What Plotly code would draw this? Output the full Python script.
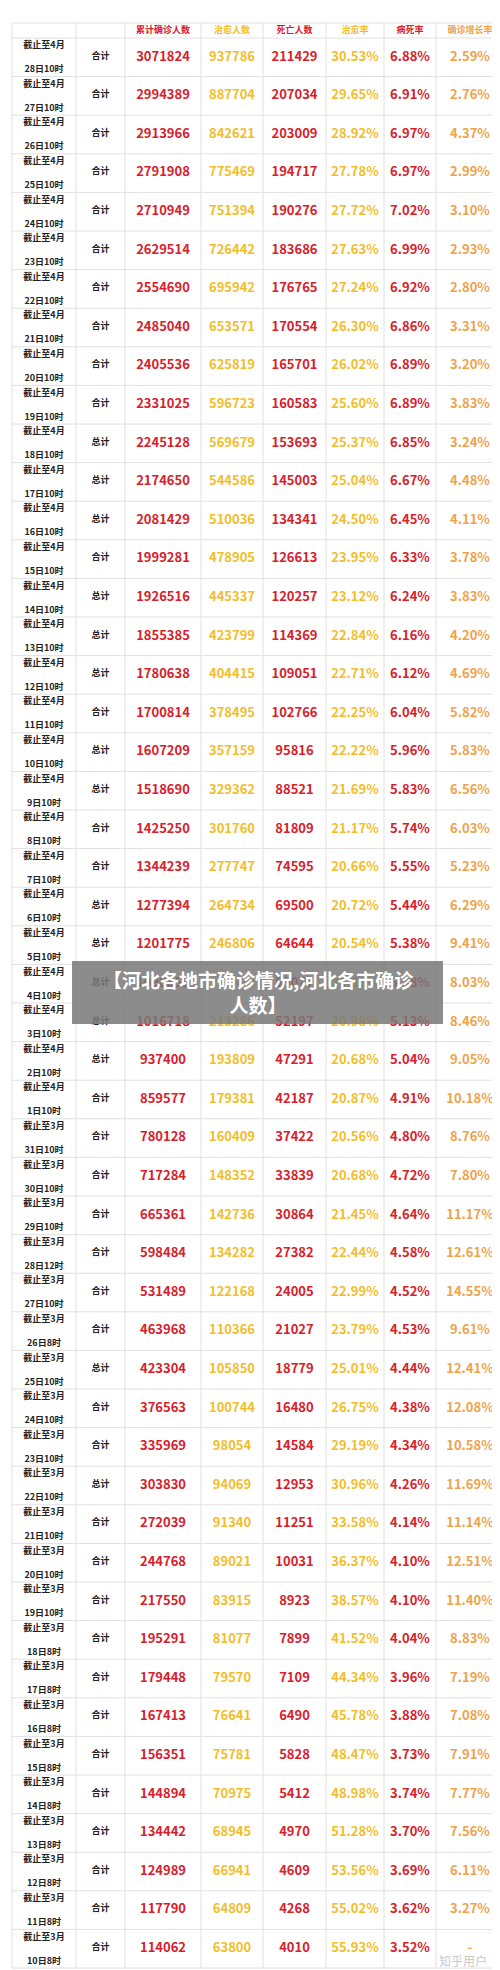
import plotly.graph_objects as go

days_apr = [f"4月|{d}日10时" for d in range(28, 0, -1)]
days_mar = ["3月|31日10时", "3月|30日10时", "3月|29日10时", "3月|28日12时", "3月|27日10时",
            "3月|26日8时", "3月|25日10时", "3月|24日10时", "3月|23日10时", "3月|22日10时",
            "3月|21日10时", "3月|20日10时", "3月|19日10时", "3月|18日8时", "3月|17日8时",
            "3月|16日8时", "3月|15日8时", "3月|14日8时", "3月|13日8时", "3月|12日8时",
            "3月|11日8时", "3月|10日8时"]
periods = days_apr + days_mar

kind = (["合计"] * 10 + ["总计", "总计", "总计", "合计", "总计", "总计", "总计", "合计", "总计", "总计",
         "合计", "合计", "总计", "总计", "总计", "总计", "总计", "合计"]
        + ["合计"] * 6 + ["总计", "合计", "合计", "总计"] + ["合计"] * 12)

confirmed = [3071824, 2994389, 2913966, 2791908, 2710949, 2629514, 2554690, 2485040, 2405536, 2331025,
             2245128, 2174650, 2081429, 1999281, 1926516, 1855385, 1780638, 1700814, 1607209, 1518690,
             1425250, 1344239, 1277394, 1201775, 1098855, 1016718, 937400, 859577, 780128, 717284,
             665361, 598484, 531489, 463968, 423304, 376563, 335969, 303830, 272039, 244768,
             217550, 195291, 179448, 167413, 156351, 144894, 134442, 124989, 117790, 114062]
cured = [937786, 887704, 842621, 775469, 751394, 726442, 695942, 653571, 625819, 596723,
         569679, 544586, 510036, 478905, 445337, 423799, 404415, 378495, 357159, 329362,
         301760, 277747, 264734, 246806, 228928, 213286, 193809, 179381, 160409, 148352,
         142736, 134282, 122168, 110366, 105850, 100744, 98054, 94069, 91340, 89021,
         83915, 81077, 79570, 76641, 75781, 70975, 68945, 66941, 64809, 63800]
deaths = [211429, 207034, 203009, 194717, 190276, 183686, 176765, 170554, 165701, 160583,
          153693, 145003, 134341, 126613, 120257, 114369, 109051, 102766, 95816, 88521,
          81809, 74595, 69500, 64644, 59077, 52197, 47291, 42187, 37422, 33839,
          30864, 27382, 24005, 21027, 18779, 16480, 14584, 12953, 11251, 10031,
          8923, 7899, 7109, 6490, 5828, 5412, 4970, 4609, 4268, 4010]
cure_rate = ["30.53%", "29.65%", "28.92%", "27.78%", "27.72%", "27.63%", "27.24%", "26.30%", "26.02%", "25.60%",
             "25.37%", "25.04%", "24.50%", "23.95%", "23.12%", "22.84%", "22.71%", "22.25%", "22.22%", "21.69%",
             "21.17%", "20.66%", "20.72%", "20.54%", "20.83%", "20.98%", "20.68%", "20.87%", "20.56%", "20.68%",
             "21.45%", "22.44%", "22.99%", "23.79%", "25.01%", "26.75%", "29.19%", "30.96%", "33.58%", "36.37%",
             "38.57%", "41.52%", "44.34%", "45.78%", "48.47%", "48.98%", "51.28%", "53.56%", "55.02%", "55.93%"]
death_rate = ["6.88%", "6.91%", "6.97%", "6.97%", "7.02%", "6.99%", "6.92%", "6.86%", "6.89%", "6.89%",
              "6.85%", "6.67%", "6.45%", "6.33%", "6.24%", "6.16%", "6.12%", "6.04%", "5.96%", "5.83%",
              "5.74%", "5.55%", "5.44%", "5.38%", "5.38%", "5.13%", "5.04%", "4.91%", "4.80%", "4.72%",
              "4.64%", "4.58%", "4.52%", "4.53%", "4.44%", "4.38%", "4.34%", "4.26%", "4.14%", "4.10%",
              "4.10%", "4.04%", "3.96%", "3.88%", "3.73%", "3.74%", "3.70%", "3.69%", "3.62%", "3.52%"]
growth = ["2.59%", "2.76%", "4.37%", "2.99%", "3.10%", "2.93%", "2.80%", "3.31%", "3.20%", "3.83%",
          "3.24%", "4.48%", "4.11%", "3.78%", "3.83%", "4.20%", "4.69%", "5.82%", "5.83%", "6.56%",
          "6.03%", "5.23%", "6.29%", "9.41%", "8.03%", "8.46%", "9.05%", "10.18%", "8.76%", "7.80%",
          "11.17%", "12.61%", "14.55%", "9.61%", "12.41%", "12.08%", "10.58%", "11.69%", "11.14%", "12.51%",
          "11.40%", "8.83%", "7.19%", "7.08%", "7.91%", "7.77%", "7.56%", "6.11%", "3.27%", "-"]

headers = ["累计确诊人数", "治愈人数", "死亡人数", "治愈率", "病死率", "确诊增长率"]

RED = "#d8202a"
YEL = "#f3bd2a"
ORA = "#efa24c"
BLK = "#222222"
GRID = "#e0e0e0"
FONT = "Noto Sans CJK SC"

W, H = 500, 1970
edges = [4, 68, 117, 193, 255, 318, 376, 428, 496]
centers = [(a + b) / 2 for a, b in zip(edges[:-1], edges[1:])]
top, head_h, row_h = 15, 15, 38.6
n = len(periods)
row_top = [top + head_h + i * row_h for i in range(n)]
row_mid = [t + row_h / 2 for t in row_top]

fig = go.Figure()

# grid
for x in edges:
    fig.add_shape(type="line", x0=x, x1=x, y0=top, y1=row_top[-1] + row_h,
                  line=dict(color=GRID, width=1), layer="below")
for y in [top, top + head_h] + [t + row_h for t in row_top]:
    fig.add_shape(type="line", x0=edges[0], x1=edges[-1], y0=y, y1=y,
                  line=dict(color=GRID, width=1), layer="below")

def text_col(x, ys, texts, size, color):
    fig.add_trace(go.Scatter(x=[x] * len(ys), y=ys, text=texts, mode="text",
                             textfont=dict(size=size, color=color, family=FONT),
                             hoverinfo="skip", showlegend=False))

# header
hcolors = [RED, YEL, RED, YEL, RED, ORA]
for j, h in enumerate(headers):
    text_col(centers[j + 2], [top + head_h / 2], [f"<b>{h}</b>"], 9, hcolors[j])

# first two columns
line1 = [f"<b>截止至{p.split('|')[0]}</b>" for p in periods]
line2 = [f"<b>{p.split('|')[1]}</b>" for p in periods]
text_col(centers[0], [t + 8 for t in row_top], line1, 9, BLK)
text_col(centers[0], [t + 32 for t in row_top], line2, 9, BLK)
text_col(centers[1], [m - 1 for m in row_mid], [f"<b>{k}</b>" for k in kind], 9, BLK)

cols = [confirmed, cured, deaths, cure_rate, death_rate, growth]
ccolors = [RED, YEL, RED, YEL, RED, ORA]
for j, vals in enumerate(cols):
    text_col(centers[j + 2], row_mid, [f"<b>{v}</b>" for v in vals], 13, ccolors[j])

# grey caption band over the table
fig.add_shape(type="rect", x0=64, x1=435, y0=953, y1=1016,
              fillcolor="rgba(120,120,120,0.85)", line_width=0, layer="above")
fig.add_annotation(x=250, y=984, text="<b>【河北各地市确诊情况,河北各市确诊<br>人数】</b>",
                   showarrow=False, font=dict(size=19, color="white", family=FONT))
fig.add_annotation(x=455, y=1952, text="知乎用户", showarrow=False,
                   font=dict(size=12, color="#c8c8c8", family=FONT))

fig.update_xaxes(range=[0, W], visible=False, fixedrange=True)
fig.update_yaxes(range=[H, 0], visible=False, fixedrange=True)
fig.update_layout(width=W, height=H, margin=dict(l=0, r=0, t=0, b=0),
                  paper_bgcolor="white", plot_bgcolor="white")
fig.write_html("out.html")
